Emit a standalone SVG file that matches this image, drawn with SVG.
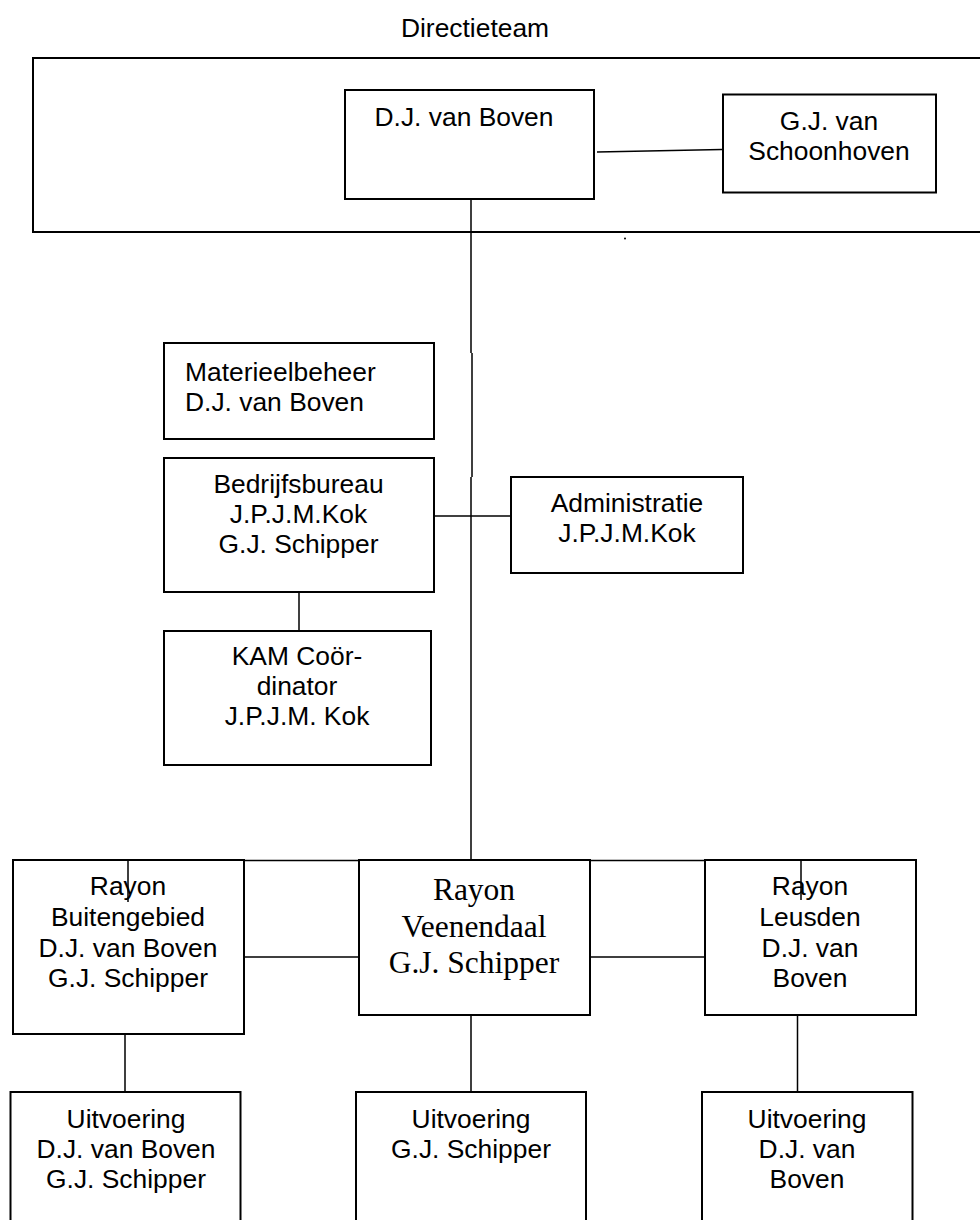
<svg xmlns="http://www.w3.org/2000/svg" width="980" height="1220" viewBox="0 0 980 1220">
<style>
.box{fill:#fff;stroke:#000;stroke-width:2}
.t{font-family:"Liberation Sans",Arial,sans-serif;font-size:26.4px;fill:#000}
.s{font-family:"Liberation Serif","Times New Roman",serif;font-size:31.5px;fill:#000}
.c{text-anchor:middle}
.ln{stroke:#000;stroke-width:1.5;fill:none}
</style>
<rect width="980" height="1220" fill="#fff"/>
<g id="directieteam">
<text class="t c" x="475" y="37">Directieteam</text>
<rect class="box" x="33" y="58" width="1000" height="174"/>
</g>
<g id="connectors">
<path class="ln" d="M597,152 L722,149.5"/>
<path class="ln" d="M471,199 V353 M472,353 V477 M471,477 V861"/>
<path class="ln" d="M434,516 H511"/>
<path class="ln" d="M299,592 V631"/>
<path class="ln" d="M128,860.5 H801 M128,860 V902 M801,860 V900"/>
<path class="ln" d="M244,957 H359 M590,957 H705"/>
<path class="ln" d="M125,1034 V1092 M471,1015 V1092 M797.5,1015 V1092"/>
<path class="ln" d="M467,107 L469,110"/>
<circle cx="625" cy="238.5" r="1" fill="#000"/>
</g>
<g id="dj-van-boven">
<rect class="box" x="345" y="90" width="249" height="109"/>
<text class="t c" x="464" y="126">D.J. van Boven</text>
</g>
<g id="schoonhoven">
<rect class="box" x="723" y="94.5" width="213" height="98"/>
<text class="t c" x="829" y="130">G.J. van</text>
<text class="t c" x="829" y="160">Schoonhoven</text>
</g>
<g id="materieelbeheer">
<rect class="box" x="164" y="343" width="270" height="96"/>
<text class="t" x="185" y="380.5">Materieelbeheer</text>
<text class="t" x="185" y="410.5">D.J. van Boven</text>
</g>
<g id="bedrijfsbureau">
<rect class="box" x="164" y="458" width="270" height="134"/>
<text class="t c" x="298.5" y="493">Bedrijfsbureau</text>
<text class="t c" x="298.5" y="523">J.P.J.M.Kok</text>
<text class="t c" x="298.5" y="553">G.J. Schipper</text>
</g>
<g id="administratie">
<rect class="box" x="511" y="477" width="232" height="96"/>
<text class="t c" x="627" y="511.5">Administratie</text>
<text class="t c" x="627" y="541.5">J.P.J.M.Kok</text>
</g>
<g id="kam">
<rect class="box" x="164" y="631" width="267" height="134"/>
<text class="t c" x="297" y="665">KAM Coör-</text>
<text class="t c" x="297" y="695">dinator</text>
<text class="t c" x="297" y="725">J.P.J.M. Kok</text>
</g>
<g id="rayon-buitengebied">
<rect class="box" x="13" y="860" width="231" height="174"/>
<text class="t c" x="128" y="895">Rayon</text>
<text class="t c" x="128" y="926">Buitengebied</text>
<text class="t c" x="128" y="957">D.J. van Boven</text>
<text class="t c" x="128" y="987">G.J. Schipper</text>
</g>
<g id="rayon-veenendaal">
<rect class="box" x="359" y="860" width="231" height="155"/>
<text class="s c" x="474" y="900">Rayon</text>
<text class="s c" x="474" y="936.5">Veenendaal</text>
<text class="s c" x="474" y="973">G.J. Schipper</text>
</g>
<g id="rayon-leusden">
<rect class="box" x="705" y="860" width="211" height="155"/>
<text class="t c" x="810" y="895">Rayon</text>
<text class="t c" x="810" y="926">Leusden</text>
<text class="t c" x="810" y="957">D.J. van</text>
<text class="t c" x="810" y="987">Boven</text>
</g>
<g id="tick-overlay">
<path class="ln" d="M128,860 V902 M801,860 V900"/>
</g>
<g id="uitvoering-1">
<rect class="box" x="10.5" y="1092" width="230" height="140"/>
<text class="t c" x="126" y="1128">Uitvoering</text>
<text class="t c" x="126" y="1158">D.J. van Boven</text>
<text class="t c" x="126" y="1188">G.J. Schipper</text>
</g>
<g id="uitvoering-2">
<rect class="box" x="356" y="1092" width="230" height="140"/>
<text class="t c" x="471" y="1128">Uitvoering</text>
<text class="t c" x="471" y="1158">G.J. Schipper</text>
</g>
<g id="uitvoering-3">
<rect class="box" x="702" y="1092" width="210.5" height="140"/>
<text class="t c" x="807" y="1128">Uitvoering</text>
<text class="t c" x="807" y="1158">D.J. van</text>
<text class="t c" x="807" y="1188">Boven</text>
</g>
</svg>
